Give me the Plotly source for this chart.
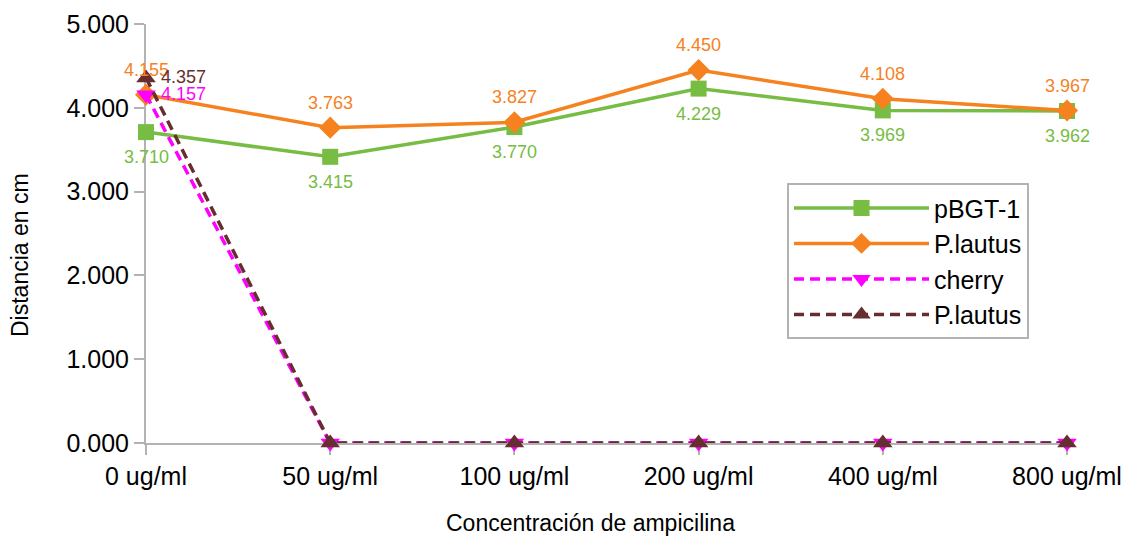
import plotly.graph_objects as go

categories = ["0 ug/ml", "50 ug/ml", "100 ug/ml", "200 ug/ml", "400 ug/ml", "800 ug/ml"]
pbgt1 = [3.710, 3.415, 3.770, 4.229, 3.969, 3.962]
plautus = [4.155, 3.763, 3.827, 4.450, 4.108, 3.967]
cherry = [4.157, 0, 0, 0, 0, 0]
plautus2 = [4.357, 0, 0, 0, 0, 0]
y_ticks = [0, 1, 2, 3, 4, 5]
y_ticktext = ["0.000", "1.000", "2.000", "3.000", "4.000", "5.000"]

FONT = "Liberation Sans, Arial, sans-serif"
GREEN = "#77bc43"
ORANGE = "#f5821f"
MAGENTA = "#ff00ff"
BROWN = "#662e2e"
DASH = "10px,6px"

series = [
    dict(name="pBGT-1", y=pbgt1, color=GREEN, symbol="square", size=16, dash="solid",
         lab=dict(xanchor="center", yanchor="middle", xshift=0, yshift=-25)),
    dict(name="P.lautus", y=plautus, color=ORANGE, symbol="diamond", size=17, dash="solid",
         lab=dict(xanchor="center", yanchor="middle", xshift=0, yshift=25)),
    dict(name="cherry", y=cherry, color=MAGENTA, symbol="triangle-down", size=17, dash=DASH,
         lab=dict(xanchor="left", yanchor="middle", xshift=13, yshift=1)),
    dict(name="P.lautus", y=plautus2, color=BROWN, symbol="triangle-up", size=17, dash=DASH,
         lab=dict(xanchor="left", yanchor="middle", xshift=13, yshift=1)),
]

fig = go.Figure()
annotations = []
for s in series:
    fig.add_trace(go.Scatter(
        x=categories, y=s["y"], name=s["name"], mode="lines+markers",
        line=dict(color=s["color"], width=3.5, dash=s["dash"]),
        marker=dict(symbol=s["symbol"], size=s["size"], color=s["color"]),
        cliponaxis=False))
    for c, v in zip(categories, s["y"]):
        if v == 0:
            continue
        annotations.append(dict(
            x=c, y=v, xref="x", yref="y", text=f"{v:.3f}", showarrow=False,
            font=dict(color=s["color"], size=18, family=FONT), **s["lab"]))

plot_top, plot_bottom, plot_left, plot_w = 24, 443, 146, 921
annotations.append(dict(text="Concentración de ampicilina", x=(590 - plot_left) / plot_w,
                        y=-(523 - plot_bottom) / (plot_bottom - plot_top), xref="paper", yref="paper",
                        showarrow=False, font=dict(size=23, family=FONT, color="#000"),
                        xanchor="center", yanchor="middle"))
annotations.append(dict(text="Distancia en cm", x=-(plot_left - 20) / plot_w,
                        y=(plot_bottom - 255) / (plot_bottom - plot_top), xref="paper", yref="paper",
                        showarrow=False, textangle=-90, font=dict(size=23, family=FONT, color="#000"),
                        xanchor="center", yanchor="middle"))

fig.update_layout(
    width=1134, height=536,
    margin=dict(l=138, r=75, t=16, b=101, autoexpand=False),
    paper_bgcolor="white", plot_bgcolor="white",
    font=dict(family=FONT, color="#000000", size=22),
    showlegend=True,
    annotations=annotations,
    legend=dict(x=0.696, y=0.62, xanchor="left", yanchor="top",
                bordercolor="#b3b3b3", borderwidth=2, bgcolor="white",
                font=dict(size=25, family=FONT), itemwidth=135),
    xaxis=dict(type="category", range=[0, 5], showgrid=False, zeroline=False,
               showline=True, linecolor="#b3b3b3", linewidth=2, layer="below traces",
               ticks="outside", ticklen=10, tickcolor="#b3b3b3", tickwidth=2,
               tickfont=dict(size=25, family=FONT), automargin=False),
    yaxis=dict(range=[0, 5], tickvals=y_ticks, ticktext=y_ticktext, showgrid=False, zeroline=False,
               showline=True, linecolor="#b3b3b3", linewidth=2, layer="below traces",
               ticks="outside", ticklen=10, tickcolor="#b3b3b3", tickwidth=2,
               tickfont=dict(size=25, family=FONT), automargin=False),
)

fig.write_html("out.html")
